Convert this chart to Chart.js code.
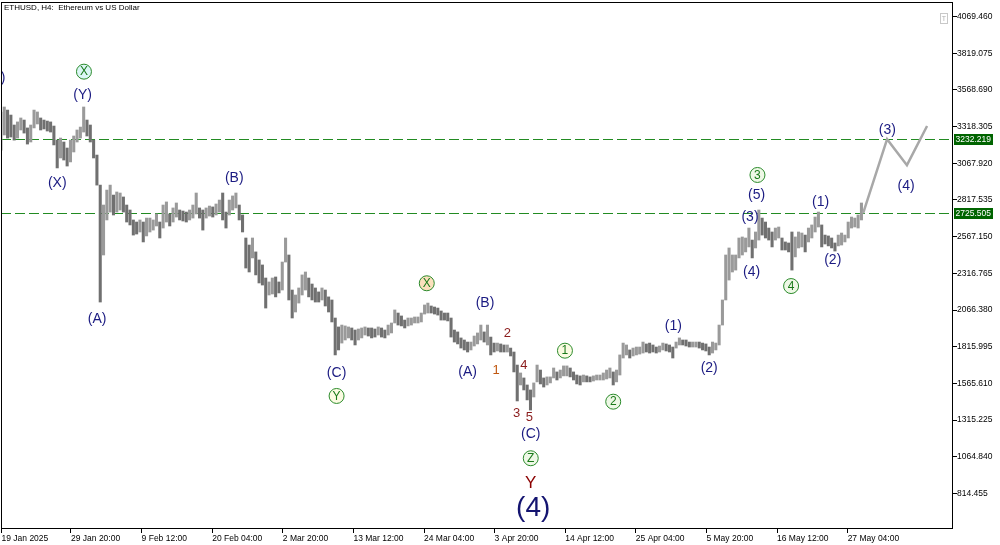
<!DOCTYPE html>
<html>
<head>
<meta charset="utf-8">
<title>ETHUSD, H4: Ethereum vs US Dollar</title>
<script src="https://cdn.jsdelivr.net/npm/chart.js@4.4.1/dist/chart.umd.min.js"></script>
<style>
  html, body { margin: 0; padding: 0; background: #fff; }
  #wrap { width: 1000px; height: 545px; position: relative; }
</style>
</head>
<body>
<div id="wrap"><canvas id="ethChart"></canvas></div>
<script>
// time axis: hours since 19 Jan 2025 00:00
const tickHours = [8, 260, 516, 772, 1028, 1284, 1540, 1796, 2052, 2308, 2564, 2820, 3076];
const tickLabels = ["19 Jan 2025", "29 Jan 20:00", "9 Feb 12:00", "20 Feb 04:00", "2 Mar 20:00",
  "13 Mar 12:00", "24 Mar 04:00", "3 Apr 20:00", "14 Apr 12:00", "25 Apr 04:00",
  "5 May 20:00", "16 May 12:00", "27 May 04:00"];
const priceTicks = [4069.460, 3819.075, 3568.690, 3318.305, 3067.920, 2817.535, 2567.150,
  2316.765, 2066.380, 1815.995, 1565.610, 1315.225, 1064.840, 814.455];

// price range of each 12 hour block
const highs = [
  3418, 3452, 3431, 3397, 3329, 3350, 3377, 3363, 3309, 3329,
  3431, 3418, 3377, 3363, 3356, 3350, 3322, 3226, 3240, 3213,
  3172, 3226, 3254, 3295, 3315, 3452, 3363, 3329, 3226, 3124,
  2919, 2783, 2885, 2919, 2851, 2872, 2865, 2838, 2783, 2749,
  2681, 2667, 2681, 2667, 2694, 2694, 2681, 2722, 2667, 2783,
  2804, 2722, 2763, 2797, 2749, 2742, 2735, 2749, 2783, 2865,
  2763, 2749, 2763, 2776, 2770, 2790, 2817, 2865, 2735, 2817,
  2845, 2865, 2783, 2715, 2558, 2510, 2558, 2463, 2408, 2374,
  2285, 2258, 2285, 2292, 2258, 2394, 2558, 2442, 2203, 2169,
  2217, 2306, 2326, 2285, 2244, 2217, 2190, 2217, 2203, 2156,
  2135, 2012, 1951, 1964, 1958, 1951, 1944, 1930, 1937, 1944,
  1951, 1944, 1944, 1937, 1951, 1944, 1930, 1964, 1978, 2067,
  2046, 2026, 1998, 2012, 2012, 2019, 2019, 2046, 2101, 2114,
  2094, 2087, 2080, 2060, 2046, 2046, 2012, 1930, 1917, 1876,
  1862, 1848, 1848, 1889, 1910, 1964, 1917, 1964, 1882, 1841,
  1841, 1835, 1828, 1828, 1807, 1780, 1691, 1637, 1603, 1555,
  1521, 1569, 1691, 1657, 1603, 1610, 1610, 1671, 1644, 1657,
  1685, 1685, 1671, 1644, 1623, 1617, 1623, 1617, 1610, 1617,
  1623, 1623, 1637, 1657, 1671, 1644, 1657, 1760, 1841, 1828,
  1794, 1807, 1814, 1814, 1848, 1835, 1841, 1828, 1814, 1821,
  1841, 1835, 1828, 1814, 1848, 1876, 1862, 1862, 1848, 1848,
  1848, 1848, 1841, 1835, 1814, 1848, 1841, 1964, 2135, 2442,
  2490, 2442, 2442, 2558, 2565, 2558, 2626, 2544, 2599, 2749,
  2694, 2667, 2626, 2599, 2626, 2633, 2558, 2531, 2524, 2599,
  2565, 2599, 2592, 2578, 2626, 2647, 2701, 2735, 2647, 2578,
  2572, 2558, 2524, 2578, 2592, 2578, 2667, 2701, 2694, 2715,
  2797
];
const lows = [
  3158, 3261, 3240, 3247, 3226, 3240, 3295, 3274, 3199, 3213,
  3309, 3336, 3295, 3302, 3288, 3281, 3193, 3036, 3104, 3090,
  3049, 3077, 3145, 3213, 3240, 3281, 3254, 3213, 3104, 2919,
  2121, 2442, 2681, 2735, 2715, 2735, 2749, 2735, 2667, 2647,
  2578, 2585, 2599, 2531, 2572, 2599, 2612, 2640, 2558, 2626,
  2667, 2640, 2667, 2701, 2681, 2674, 2667, 2681, 2694, 2722,
  2694, 2612, 2694, 2708, 2701, 2715, 2735, 2681, 2626, 2715,
  2749, 2763, 2681, 2599, 2353, 2326, 2422, 2306, 2251, 2237,
  2080, 2169, 2176, 2156, 2183, 2203, 2394, 2135, 2012, 2053,
  2114, 2169, 2203, 2156, 2135, 2121, 2121, 2135, 2094, 2053,
  1985, 1760, 1794, 1841, 1862, 1876, 1862, 1828, 1862, 1876,
  1896, 1889, 1876, 1882, 1896, 1882, 1876, 1896, 1910, 1978,
  1964, 1958, 1944, 1958, 1964, 1978, 1978, 1985, 2039, 2046,
  2046, 2039, 2032, 1998, 1998, 1992, 1882, 1848, 1835, 1807,
  1794, 1780, 1794, 1821, 1835, 1862, 1848, 1828, 1760, 1780,
  1787, 1780, 1780, 1780, 1753, 1644, 1446, 1555, 1521, 1453,
  1384, 1473, 1576, 1562, 1541, 1555, 1569, 1603, 1589, 1603,
  1617, 1617, 1610, 1589, 1562, 1555, 1576, 1576, 1576, 1582,
  1589, 1589, 1589, 1596, 1603, 1555, 1576, 1623, 1739, 1760,
  1739, 1753, 1760, 1766, 1773, 1780, 1773, 1780, 1773, 1780,
  1794, 1787, 1780, 1739, 1807, 1828, 1828, 1821, 1814, 1814,
  1814, 1807, 1794, 1787, 1760, 1773, 1794, 1828, 1964, 2135,
  2271, 2326, 2339, 2422, 2442, 2463, 2497, 2422, 2490, 2544,
  2578, 2558, 2544, 2497, 2544, 2558, 2476, 2476, 2463, 2339,
  2429, 2490, 2497, 2463, 2531, 2558, 2599, 2633, 2497, 2517,
  2504, 2490, 2469, 2504, 2510, 2531, 2558, 2626, 2633, 2626,
  2681
];

// horizontal levels and the projected path
const levels = [3232.219, 2725.505];
const projHours = [3132, 3219, 3291, 3364];
const projPrices = [2725.505, 3232.219, 3055, 3322];

// wave count labels: text, hour, price, style kind
const waveLabels = [
  { t: "(W)", h: -19, p: 3650, k: "wave" },
  { t: "X", h: 307, p: 3693, k: "circleCyan" },
  { t: "(Y)", h: 302, p: 3534, k: "wave" },
  { t: "(X)", h: 210, p: 2931, k: "wave" },
  { t: "(A)", h: 355, p: 2005, k: "wave" },
  { t: "(B)", h: 852, p: 2965, k: "wave" },
  { t: "(C)", h: 1223, p: 1635, k: "wave" },
  { t: "Y", h: 1223, p: 1480, k: "circleYellow" },
  { t: "X", h: 1550, p: 2249, k: "circleOrange" },
  { t: "(B)", h: 1761, p: 2112, k: "wave" },
  { t: "(A)", h: 1698, p: 1646, k: "wave" },
  { t: "2", h: 1842, p: 1908, k: "minor" },
  { t: "1", h: 1801, p: 1657, k: "minorOrange" },
  { t: "4", h: 1902, p: 1687, k: "minor" },
  { t: "3", h: 1876, p: 1362, k: "minor" },
  { t: "5", h: 1922, p: 1334, k: "minor" },
  { t: "(C)", h: 1927, p: 1220, k: "wave" },
  { t: "Z", h: 1927, p: 1055, k: "circleGreen" },
  { t: "Y", h: 1927, p: 884, k: "bigY" },
  { t: "(4)", h: 1936, p: 713, k: "big" },
  { t: "1", h: 2051, p: 1789, k: "circleYellow" },
  { t: "2", h: 2226, p: 1441, k: "circleGreen" },
  { t: "(1)", h: 2444, p: 1957, k: "wave" },
  { t: "(2)", h: 2574, p: 1669, k: "wave" },
  { t: "3", h: 2749, p: 2988, k: "circleGreen" },
  { t: "(5)", h: 2746, p: 2851, k: "wave" },
  { t: "(3)", h: 2722, p: 2703, k: "wave" },
  { t: "(4)", h: 2728, p: 2328, k: "wave" },
  { t: "4", h: 2871, p: 2230, k: "circleGreen" },
  { t: "(1)", h: 2978, p: 2806, k: "wave" },
  { t: "(2)", h: 3022, p: 2408, k: "wave" },
  { t: "(3)", h: 3220, p: 3295, k: "wave" },
  { t: "(4)", h: 3288, p: 2913, k: "wave" }
];

const FONT = '"Liberation Sans", Arial, sans-serif';

const labelStyles = {
  wave: { font: "14px " + FONT, color: "#1b1b82" },
  minor: { font: "13px " + FONT, color: "#8b1c1c" },
  minorOrange: { font: "13px " + FONT, color: "#c0570f" },
  bigY: { font: "17px " + FONT, color: "#8b0000" },
  big: { font: "28px " + FONT, color: "#141470" },
  circleCyan: { fill: "#dcf6f6" },
  circleYellow: { fill: "#fbfbe2" },
  circleOrange: { fill: "#fbe0bd" },
  circleGreen: { fill: "#eef8e6" }
};

const bars = highs.map((hi, i) => ({ x: i * 12 + 6, y: [lows[i], hi] }));
const mids = highs.map((hi, i) => (hi + lows[i]) / 2);
const barColors = mids.map((m, i) => (i > 0 && m < mids[i - 1]) ? "#707070" : "#9a9a9a");

const overlay = {
  id: "overlay",
  beforeDatasetsDraw(chart) {
    const { ctx, chartArea: a, scales: { y } } = chart;
    ctx.save();
    ctx.strokeStyle = "#228b22";
    ctx.lineWidth = 1;
    ctx.setLineDash([10, 4]);
    levels.forEach(v => {
      const py = Math.round(y.getPixelForValue(v)) + 0.5;
      ctx.beginPath();
      ctx.moveTo(a.left, py);
      ctx.lineTo(a.right, py);
      ctx.stroke();
    });
    ctx.restore();
  },
  afterDatasetsDraw(chart) {
    const { ctx, chartArea: a, scales: { x, y } } = chart;
    ctx.save();
    ctx.beginPath();
    ctx.rect(a.left, a.top, a.width, a.height);
    ctx.clip();
    ctx.textAlign = "center";
    ctx.textBaseline = "middle";
    waveLabels.forEach(l => {
      const s = labelStyles[l.k];
      const px = x.getPixelForValue(l.h);
      const py = y.getPixelForValue(l.p);
      if (s.fill) {
        ctx.beginPath();
        ctx.arc(px, py, 7.5, 0, Math.PI * 2);
        ctx.fillStyle = s.fill;
        ctx.fill();
        ctx.lineWidth = 1;
        ctx.strokeStyle = "#2a8a2a";
        ctx.stroke();
        ctx.fillStyle = "#1a7a1a";
        ctx.font = "12px " + FONT;
        ctx.fillText(l.t, px, py + 0.5);
      } else {
        ctx.fillStyle = s.color;
        ctx.font = s.font;
        ctx.fillText(l.t, px, py);
      }
    });
    ctx.restore();
  },
  afterDraw(chart) {
    const { ctx, chartArea: a, scales: { y } } = chart;
    ctx.save();
    // frame
    ctx.strokeStyle = "#000";
    ctx.lineWidth = 1;
    ctx.strokeRect(a.left + 0.5, a.top + 0.5, a.width - 1, a.height - 1);
    // level price boxes
    ctx.font = "8.5px " + FONT;
    ctx.textBaseline = "middle";
    ctx.textAlign = "left";
    levels.forEach(v => {
      const py = Math.round(y.getPixelForValue(v));
      ctx.fillStyle = "#006400";
      ctx.fillRect(a.right + 1, py - 5, 39, 11);
      ctx.fillStyle = "#fff";
      ctx.fillText(v.toFixed(3), a.right + 2.5, py + 0.5);
    });
    // title
    ctx.fillStyle = "#000";
    ctx.font = "8px " + FONT;
    ctx.fillText("ETHUSD, H4:  Ethereum vs US Dollar", a.left + 3, a.top + 6);
    // small button at top right
    ctx.strokeStyle = "#c8c8c8";
    ctx.strokeRect(a.right - 12.5, 13.5, 7, 10);
    ctx.fillStyle = "#b0b0b0";
    ctx.font = "7px " + FONT;
    ctx.textAlign = "center";
    ctx.fillText("T", a.right - 9, 19);
    ctx.restore();
  }
};

const tickFont = { family: FONT, size: 8.5 };

new Chart(document.getElementById("ethChart"), {
  type: "bar",
  data: {
    datasets: [
      {
        type: "bar",
        data: bars,
        backgroundColor: barColors,
        barThickness: 2.4,
        borderWidth: 0,
        grouped: false,
        order: 2
      },
      {
        type: "line",
        data: projHours.map((h, i) => ({ x: h, y: projPrices[i] })),
        borderColor: "#a8a8a8",
        borderWidth: 2.5,
        pointRadius: 0,
        tension: 0,
        order: 1
      }
    ]
  },
  options: {
    responsive: true,
    maintainAspectRatio: false,
    animation: false,
    layout: { padding: { left: 1, top: 2, right: 0, bottom: 0 } },
    plugins: { legend: { display: false }, tooltip: { enabled: false } },
    scales: {
      x: {
        type: "linear",
        min: 6.2,
        max: 3458,
        offset: false,
        afterBuildTicks: s => { s.ticks = tickHours.map(v => ({ value: v })); },
        afterFit: s => { s.height = 16; s.paddingLeft = 0; s.paddingRight = 0; },
        grid: { offset: false, drawOnChartArea: false, drawTicks: true, tickLength: 4, color: "#000" },
        border: { display: false },
        ticks: {
          autoSkip: false,
          maxRotation: 0,
          align: "start",
          padding: 1,
          color: "#000",
          font: tickFont,
          callback: v => { const i = tickHours.indexOf(v); return i < 0 ? "" : tickLabels[i]; }
        }
      },
      y: {
        position: "right",
        min: 572.2,
        max: 4168.4,
        beginAtZero: false,
        afterBuildTicks: s => { s.ticks = priceTicks.map(v => ({ value: v })); },
        afterFit: s => { s.width = 47; s.paddingTop = 0; s.paddingBottom = 0; },
        grid: { drawOnChartArea: false, drawTicks: true, tickLength: 4, color: "#000" },
        border: { display: false },
        ticks: {
          padding: 0,
          color: "#000",
          font: tickFont,
          callback: v => Number(v).toFixed(3)
        }
      }
    }
  },
  plugins: [overlay]
});
</script>
</body>
</html>
